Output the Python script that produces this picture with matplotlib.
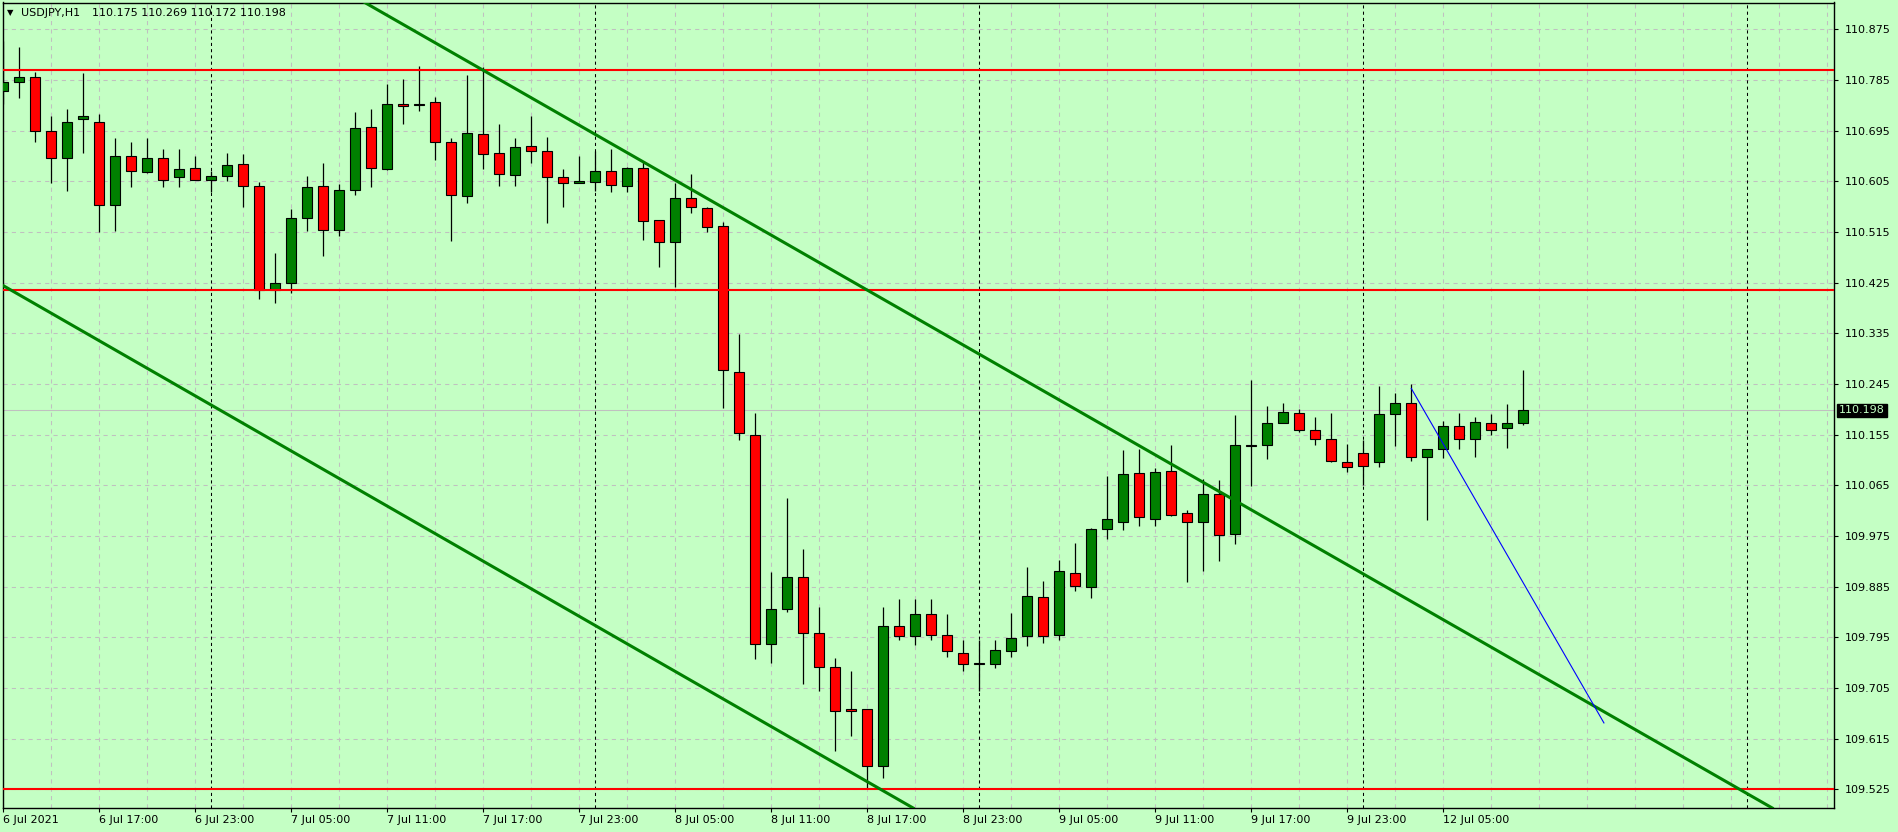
import matplotlib
matplotlib.use('Agg')
import matplotlib.pyplot as plt
import matplotlib.transforms as mtransforms
import numpy as np

# USDJPY H1 candles, bar 0 = 6 Jul 2021 11:00 (weekend skipped after 9 Jul 23:00)
opens = [110.766, 110.782, 110.790, 110.694, 110.646, 110.715, 110.710, 110.562, 110.649, 110.622,
         110.647, 110.612, 110.628, 110.608, 110.615, 110.635, 110.596, 110.411, 110.425, 110.539,
         110.596, 110.518, 110.589, 110.701, 110.626, 110.742, 110.740, 110.745, 110.674, 110.578,
         110.688, 110.656, 110.616, 110.667, 110.658, 110.612, 110.601, 110.603, 110.624, 110.596,
         110.628, 110.536, 110.497, 110.576, 110.557, 110.525, 110.267, 110.155, 109.784, 109.845,
         109.902, 109.802, 109.743, 109.667, 109.667, 109.566, 109.815, 109.797, 109.836, 109.799,
         109.767, 109.748, 109.747, 109.770, 109.797, 109.866, 109.799, 109.910, 109.885, 109.987,
         110.000, 110.086, 110.005, 110.090, 110.015, 110.000, 110.049, 109.978, 110.136, 110.136,
         110.175, 110.193, 110.163, 110.148, 110.106, 110.122, 110.106, 110.191, 110.211, 110.115,
         110.129, 110.170, 110.147, 110.175, 110.166, 110.175]
highs = [110.854, 110.843, 110.799, 110.720, 110.733, 110.797, 110.724, 110.682, 110.674, 110.682,
         110.663, 110.662, 110.650, 110.624, 110.656, 110.653, 110.603, 110.477, 110.555, 110.614,
         110.637, 110.600, 110.728, 110.733, 110.778, 110.787, 110.810, 110.755, 110.681, 110.794,
         110.807, 110.707, 110.682, 110.721, 110.684, 110.627, 110.650, 110.658, 110.662, 110.630,
         110.639, 110.537, 110.601, 110.618, 110.560, 110.532, 110.334, 110.193, 109.911, 110.042,
         109.952, 109.849, 109.758, 109.735, 109.667, 109.849, 109.863, 109.863, 109.863, 109.836,
         109.790, 109.790, 109.790, 109.838, 109.920, 109.895, 109.932, 109.963, 109.989, 110.082,
         110.128, 110.130, 110.096, 110.137, 110.021, 110.076, 110.074, 110.190, 110.252, 110.206,
         110.211, 110.200, 110.186, 110.193, 110.138, 110.145, 110.241, 110.229, 110.245, 110.129,
         110.180, 110.193, 110.186, 110.191, 110.209, 110.269]
lows = [110.742, 110.753, 110.674, 110.601, 110.588, 110.656, 110.514, 110.517, 110.594, 110.620,
        110.595, 110.594, 110.607, 110.586, 110.606, 110.560, 110.395, 110.388, 110.406, 110.517,
        110.473, 110.507, 110.581, 110.595, 110.625, 110.707, 110.729, 110.642, 110.499, 110.567,
        110.627, 110.597, 110.597, 110.638, 110.530, 110.560, 110.601, 110.587, 110.585, 110.585,
        110.501, 110.453, 110.418, 110.549, 110.514, 110.203, 110.146, 109.756, 109.750, 109.840,
        109.712, 109.699, 109.594, 109.620, 109.525, 109.546, 109.790, 109.781, 109.790, 109.760,
        109.735, 109.700, 109.740, 109.760, 109.780, 109.785, 109.790, 109.878, 109.865, 109.970,
        109.986, 109.992, 109.993, 110.011, 109.894, 109.913, 109.931, 109.960, 110.064, 110.111,
        110.175, 110.159, 110.137, 110.106, 110.088, 110.066, 110.098, 110.135, 110.109, 110.004,
        110.114, 110.130, 110.116, 110.155, 110.132, 110.172]
closes = [110.782, 110.790, 110.694, 110.647, 110.710, 110.721, 110.562, 110.649, 110.624, 110.646,
          110.608, 110.626, 110.608, 110.614, 110.633, 110.596, 110.411, 110.424, 110.539, 110.594,
          110.518, 110.589, 110.699, 110.628, 110.742, 110.738, 110.743, 110.674, 110.580, 110.690,
          110.653, 110.617, 110.665, 110.658, 110.612, 110.601, 110.605, 110.624, 110.598, 110.628,
          110.534, 110.497, 110.575, 110.559, 110.523, 110.269, 110.157, 109.783, 109.845, 109.903,
          109.802, 109.743, 109.665, 109.664, 109.566, 109.815, 109.798, 109.836, 109.800, 109.770,
          109.748, 109.749, 109.772, 109.793, 109.868, 109.797, 109.912, 109.887, 109.987, 110.005,
          110.085, 110.008, 110.088, 110.013, 109.999, 110.049, 109.976, 110.136, 110.135, 110.175,
          110.195, 110.163, 110.148, 110.108, 110.097, 110.100, 110.191, 110.211, 110.115, 110.129,
          110.170, 110.148, 110.177, 110.164, 110.175, 110.198]

# time axis labels (every 6 bars)
label_bars = [0, 6, 12, 18, 24, 30, 36, 42, 48, 54, 60, 66, 72, 78, 84, 90]
label_text = ['6 Jul 2021', '6 Jul 17:00', '6 Jul 23:00', '7 Jul 05:00', '7 Jul 11:00',
              '7 Jul 17:00', '7 Jul 23:00', '8 Jul 05:00', '8 Jul 11:00', '8 Jul 17:00',
              '8 Jul 23:00', '9 Jul 05:00', '9 Jul 11:00', '9 Jul 17:00', '9 Jul 23:00',
              '12 Jul 05:00']
day_separators = [13, 37, 61, 85, 109]   # midnight bars
price_ticks = [109.525, 109.615, 109.705, 109.795, 109.885, 109.975, 110.065, 110.155,
               110.245, 110.335, 110.425, 110.515, 110.605, 110.695, 110.785, 110.875]

# drawn objects
red_levels = [110.803, 110.411, 109.525]
upper_channel = [(31.04, 110.785), (76.67, 110.043)]
lower_channel = [(0.0, 110.4195), (56.0, 109.506)]
blue_line = [(88.0, 110.237), (100.04, 109.643)]
last_price = 110.198
header = 'USDJPY,H1'
header_prices = '110.175 110.269 110.172 110.198'

BG = '#C4FFC4'
GRID = '#C0C0C0'

W, H = 1898, 832
fig = plt.figure(figsize=(W / 100, H / 100), dpi=100, facecolor=BG)
ax = fig.add_axes([2.5 / W, 24 / H, (1834 - 2.5) / W, (808 - 2.5) / H])
ax.set_facecolor(BG)
ax.set_xlim(-0.05, 114.42)
ax.set_ylim(109.4919, 110.9224)

# grid: horizontal at price ticks, vertical every 3 bars
for p in price_ticks:
    ax.axhline(p, color=GRID, lw=0.75, ls=(0, (4, 4)), zorder=0)
for b in range(0, 115, 3):
    ax.axvline(b, color=GRID, lw=0.75, ls=(0, (4, 4)), zorder=0)

# period separators
for b in day_separators:
    ax.axvline(b, color='black', lw=0.75, ls=(0, (3, 3)), zorder=1)

# current price line
ax.axhline(last_price, color=GRID, lw=0.75, zorder=1)

# candles
x = np.arange(len(opens))
o = np.array(opens)
c = np.array(closes)
up = c >= o
ax.vlines(x, lows, highs, color='black', lw=0.9, zorder=2)
body_col = np.where(up, '#008000', '#FF0000')
ax.bar(x, c - o, bottom=o, width=0.6, color=body_col, edgecolor='black', linewidth=0.8, zorder=3)

# horizontal levels and trend lines
for lvl in red_levels:
    ax.axhline(lvl, color='#FF0000', lw=1.5, zorder=4)
ax.axline(upper_channel[0], upper_channel[1], color='#008000', lw=2.2, zorder=4)
ax.axline(lower_channel[0], lower_channel[1], color='#008000', lw=2.2, zorder=4)
ax.plot([blue_line[0][0], blue_line[1][0]], [blue_line[0][1], blue_line[1][1]],
        color='#0000FF', lw=0.8, zorder=4)

# axes styling
for s in ax.spines.values():
    s.set_color('black')
    s.set_linewidth(1)
ax.yaxis.tick_right()
ax.set_yticks(price_ticks)
ax.set_yticklabels(['%.3f' % p for p in price_ticks])
ax.tick_params(axis='y', length=3, width=0.8, pad=5, labelsize=8, colors='black')
ax.set_xticks(label_bars)
ax.set_xticklabels(label_text)
ax.tick_params(axis='x', length=3, width=0.8, pad=2, labelsize=8, colors='black')
for lbl in ax.get_xticklabels():
    lbl.set_ha('left')

# last price tag on the price scale
tr = mtransforms.blended_transform_factory(ax.transAxes, ax.transData)
tr = mtransforms.offset_copy(tr, fig=fig, x=5, y=0, units='dots')
ax.text(1.0, last_price, '110.198', transform=tr, ha='left', va='center', fontsize=8,
        color=BG, clip_on=False, zorder=10,
        bbox=dict(boxstyle='square,pad=0.15', fc='black', ec='black'))

# header
fig.text(7 / W, 1 - 12.5 / H, '\u25bc', fontsize=6, va='center', ha='left')
fig.text(21 / W, 1 - 12.5 / H, header, fontsize=8, va='center', ha='left')
fig.text(91.5 / W, 1 - 12.5 / H, header_prices, fontsize=8, va='center', ha='left')

fig.savefig('out.png', dpi=100, facecolor=BG)
